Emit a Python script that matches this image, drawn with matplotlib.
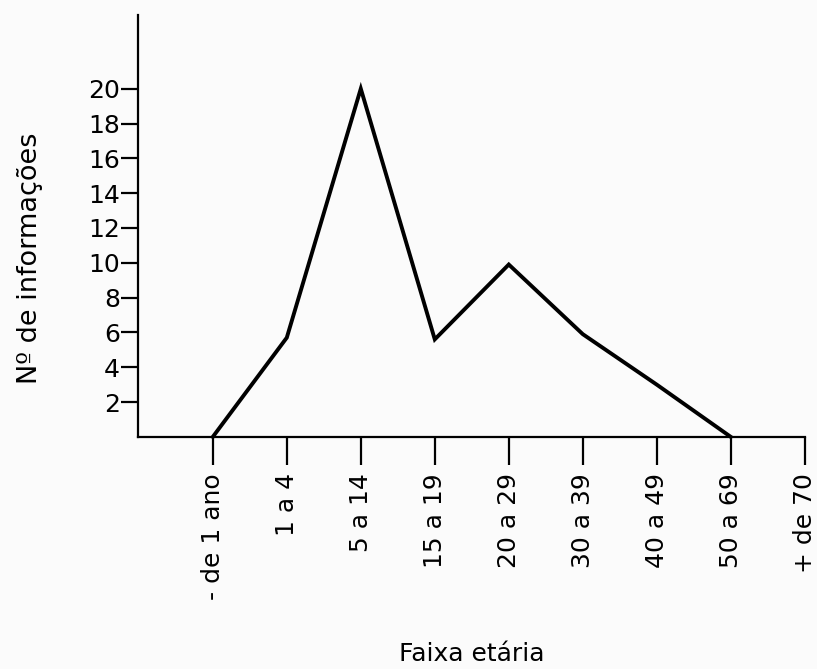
import matplotlib
matplotlib.use('Agg')
import matplotlib.pyplot as plt

# Age groups and number of reports
faixas = ['- de 1 ano', '1 a 4', '5 a 14', '15 a 19', '20 a 29',
          '30 a 39', '40 a 49', '50 a 69', '+ de 70']
informacoes = [0, 5.7, 20, 5.6, 9.9, 5.9, 3, 0]
y_ticks = [2, 4, 6, 8, 10, 12, 14, 16, 18, 20]

plt.rcParams['font.family'] = ['DejaVu Sans']

fig = plt.figure(figsize=(8.17, 6.69), dpi=100, facecolor='#fbfbfb')
ax = fig.add_axes([0.169, 0.347, 0.816, 0.631])
ax.set_facecolor('#fbfbfb')

x = list(range(len(faixas)))
ax.plot(x[:len(informacoes)], informacoes, color='black', linewidth=2.8,
        solid_joinstyle='miter', clip_on=False)

ax.set_xlim(-1.01, 8)
ax.set_ylim(0, 24.25)

ax.spines['top'].set_visible(False)
ax.spines['right'].set_visible(False)
ax.spines['left'].set_linewidth(1.6)
ax.spines['bottom'].set_linewidth(1.6)

ax.set_xticks(x)
ax.set_xticklabels(faixas, rotation=90, fontsize=18)
ax.set_yticks(y_ticks)
ax.set_yticklabels([str(v) for v in y_ticks], fontsize=18)
ax.tick_params(axis='x', direction='out', length=20, width=1.6, pad=6)
ax.tick_params(axis='y', direction='out', length=12, width=1.6, pad=1)

ax.set_xlabel('Faixa etária', fontsize=18)
ax.xaxis.set_label_coords(0.5, -0.486)
ax.set_ylabel('Nº de informações', fontsize=19.5)
ax.yaxis.set_label_coords(-0.143, 0.424)

fig.savefig('out.png', dpi=100, facecolor=fig.get_facecolor())
